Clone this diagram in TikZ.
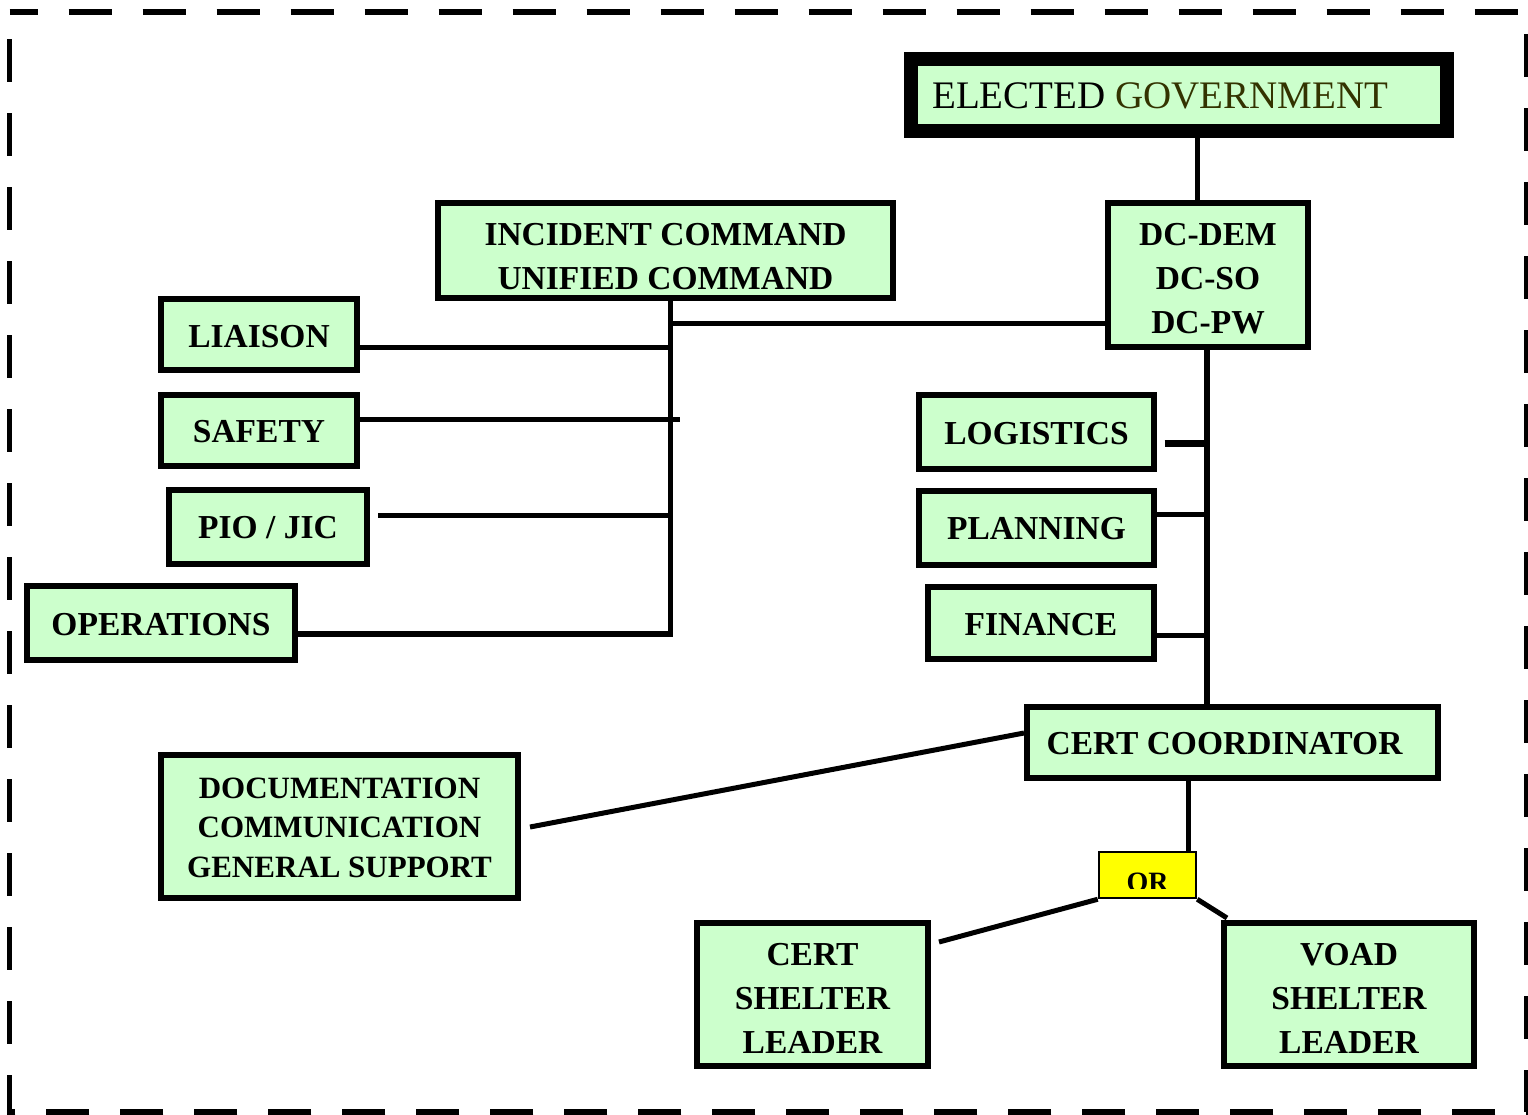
\documentclass[tikz,border=0pt]{standalone}
\usepackage{fontspec}
\setmainfont{Liberation Serif}
\usetikzlibrary{backgrounds}
\definecolor{boxgreen}{HTML}{CCFFCC}
\definecolor{govcol}{HTML}{333300}
\definecolor{oryellow}{HTML}{FFFF00}
\begin{document}
\begin{tikzpicture}[x=1pt,y=-1pt,
  box/.style={draw=black, fill=boxgreen, line width=6pt, inner sep=0pt},
  txt/.style={inner sep=0pt, align=center, font=\bfseries\fontsize{33.5}{44}\selectfont},
  conn/.style={draw=black, line width=5pt},
  frame/.style={draw=black, line width=5.5pt, dash pattern=on 43pt off 31pt, dash phase=15pt}]
\useasboundingbox (0,0) rectangle (1528,1114);
\clip (0,0) rectangle (1528,1114);

% boxes
\node[box, line width=14pt, minimum width=536pt, minimum height=72pt] (EG) at (1179,95) {};
\node[anchor=west, inner sep=0pt, font=\fontsize{39}{48}\selectfont] (EGt) at (932,96) {ELECTED \textcolor{govcol}{GOVERNMENT}};

\node[box, minimum width=455pt, minimum height=95pt] (IC) at (665.5,250.5) {};
\node[txt] (ICt) at ([yshift=-6pt]IC.center) {INCIDENT COMMAND\\UNIFIED COMMAND};

\node[box, minimum width=200pt, minimum height=144pt] (DC) at (1208,275) {};
\node[txt] (DCt) at ([yshift=-4pt]DC.center) {DC-DEM\\DC-SO\\DC-PW};

\node[box, minimum width=196pt, minimum height=71pt] (LIA) at (259,334.5) {};
\node[txt] (LIAt) at ([yshift=-2pt]LIA.center) {LIAISON};

\node[box, minimum width=196pt, minimum height=71pt] (SAF) at (259,430.5) {};
\node[txt] (SAFt) at ([yshift=-1.5pt]SAF.center) {SAFETY};

\node[box, minimum width=198pt, minimum height=74pt] (PIO) at (268,527) {};
\node[txt] (PIOt) at ([yshift=-1pt]PIO.center) {PIO / JIC};

\node[box, minimum width=268pt, minimum height=74pt] (OPS) at (161,623) {};
\node[txt] (OPSt) at ([yshift=-2pt]OPS.center) {OPERATIONS};

\node[box, minimum width=235pt, minimum height=74pt] (LOG) at (1036.5,432) {};
\node[txt] (LOGt) at ([yshift=-2pt]LOG.center) {LOGISTICS};

\node[box, minimum width=235pt, minimum height=74pt] (PLA) at (1036.5,528) {};
\node[txt] (PLAt) at ([yshift=-1pt]PLA.center) {PLANNING};

\node[box, minimum width=226pt, minimum height=72pt] (FIN) at (1041,623) {};
\node[txt] (FINt) at ([yshift=-1.5pt]FIN.center) {FINANCE};

\node[box, minimum width=411pt, minimum height=71pt] (CC) at (1232.5,742.5) {};
\node[txt] (CCt) at ([xshift=-8pt,yshift=-1pt]CC.center) {CERT COORDINATOR};

\node[box, minimum width=357pt, minimum height=143pt] (DOC) at (339.5,826.5) {};
\node[txt, font=\bfseries\fontsize{31}{39.5}\selectfont] (DOCt) at ([yshift=-1pt]DOC.center) {DOCUMENTATION\\COMMUNICATION\\GENERAL SUPPORT};

\node[box, minimum width=231pt, minimum height=143pt] (CSL) at (812.5,994.5) {};
\node[txt] (CSLt) at ([yshift=-4pt]CSL.center) {CERT\\SHELTER\\LEADER};

\node[box, minimum width=250pt, minimum height=143pt] (VSL) at (1349,994.5) {};
\node[txt] (VSLt) at ([yshift=-4pt]VSL.center) {VOAD\\SHELTER\\LEADER};

\node[draw=black, fill=oryellow, line width=2.5pt, inner sep=0pt, minimum width=97pt, minimum height=46pt] (OR) at (1147.5,875) {};
\begin{scope}
  \clip (1098,851) rectangle (1197,888.5);
  \node[inner sep=0pt, font=\bfseries\fontsize{28}{32}\selectfont] (ORt) at (1147.5,882.5) {OR};
\end{scope}

% junction coordinates
\coordinate (ltr) at (670.5,0);
\coordinate (lbot) at (670.5,636.5);
\coordinate (jIC) at (670.5,323);
\coordinate (jL) at (670.5,347);
\coordinate (jS) at (679.5,419);
\coordinate (jP) at (670.5,515);
\coordinate (jO) at (673,634);
\coordinate (eg) at (1197,0);
\coordinate (rtr) at (1206.5,0);
\coordinate (jLg) at (1206.5,443.7);
\coordinate (jPl) at (1206.5,514.5);
\coordinate (jF) at (1206.5,635);
\coordinate (ccx) at (1188.3,0);

\begin{scope}[on background layer]
  \draw[frame] (9.7,12) -- (1527,12) -- (1527,1112) -- (9.7,1112) -- cycle;
  \draw[conn] (EG.south -| eg) -- (DC.north -| eg);
  \draw[conn] (IC.south -| ltr) -- (lbot);
  \draw[conn] (jIC) -- (jIC -| DC.west);
  \draw[conn] (LIA.east |- jL) -- (jL);
  \draw[conn] (SAF.east |- jS) -- (jS);
  \draw[conn] ([xshift=8pt]PIO.east |- jP) -- (jP);
  \draw[conn, line width=6pt] (OPS.east |- jO) -- (jO);
  \draw[conn, line width=6pt] (DC.south -| rtr) -- (CC.north -| rtr);
  \draw[conn, line width=7pt] ([xshift=7.7pt]LOG.east |- jLg) -- (jLg);
  \draw[conn] (PLA.east |- jPl) -- (jPl);
  \draw[conn] (FIN.east |- jF) -- (jF);
  \draw[conn] ([yshift=9.5pt]CC.west) -- ([xshift=9pt,yshift=-0.5pt]DOC.east);
  \draw[conn] (CC.south -| ccx) -- (OR.north -| ccx);
  \draw[conn] (OR.south west) -- ([xshift=8pt,yshift=-22pt]CSL.north east);
  \draw[conn] (OR.south east) -- ([xshift=6pt,yshift=2pt]VSL.north west);
\end{scope}
\end{tikzpicture}
\end{document}
